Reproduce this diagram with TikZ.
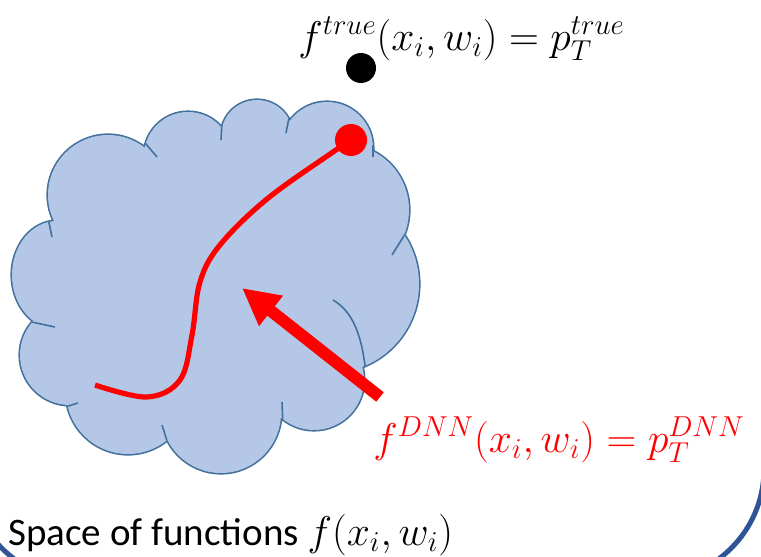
\documentclass[tikz,border=0pt]{standalone}
\usepackage{fontspec}
\setmainfont{Carlito}
\usepackage{xcolor}
\definecolor{puff}{HTML}{B4C7E7}
\definecolor{puffline}{HTML}{41719C}
\definecolor{frame}{HTML}{2F5597}
\definecolor{hot}{HTML}{FF0000}
\usetikzlibrary{arrows.meta}
% cloud puffs: x/y/rx/ry in pixels
\newcommand{\puffs}{57/275/45/54, 108/195/60/60, 188/156/44/44, 257/136/36/36,
  327/148/46/46, 343/210/66/66, 330/284/89/89, 314/380/50/50, 221/413/60/60,
  128/392/62/62, 70/355/50/50, 210/290/120/120, 255/205/65/65}
\tikzset{
  mathlbl/.style={font=\fontsize{20}{24}\selectfont,inner sep=0pt,anchor=base west},
  txtlbl/.style={font=\fontsize{19.5}{23}\selectfont,inner sep=0pt,anchor=base west},
  dot/.style={circle,inner sep=0pt,minimum size=#1},
  notch/.style={draw=puffline,line width=0.8pt},
}
\begin{document}
\begin{tikzpicture}[x=0.5pt,y=-0.5pt]
  \path[use as bounding box,clip] (0,0) rectangle (761,557);
  % frame of the slide box
  \draw[frame,line width=2.5pt,rounded corners=56pt] (-31,-300) rectangle (764,581);
  % cloud
  \draw[puffline,line width=1.6pt] \foreach \x/\y/\a/\b in \puffs {(\x,\y) ellipse ({\a} and {\b})};
  \fill[puff] \foreach \x/\y/\a/\b in \puffs {(\x,\y) ellipse ({\a} and {\b})};
  \begin{scope}
    \clip \foreach \x/\y/\a/\b in \puffs {(\x,\y) ellipse ({\a} and {\b})};
    \foreach \p/\q in {{48,218}/{52,237}, {140,137}/{157,157}, {222,122}/{221,140},
      {289,118}/{286,133}, {373,145}/{373,157}, {407,231}/{392,255}, {283,428}/{282,402},
      {169,447}/{162,425}, {62,408}/{78,403}, {27,321}/{55,327}}
      \draw[notch] (\p) -- (\q);
    \draw[notch] (366,375) .. controls (362,330) and (350,310) .. (333,300);
  \end{scope}
  % points
  \node[dot=15pt,fill=black] (truth) at (361,68) {};
  \node[dot=16pt,fill=hot] (fit) at (351,140) {};
  \draw[hot,line width=2.6pt] plot[smooth,tension=0.6] coordinates {(95,385) (147,397) (180,380)
    (192,335) (200,282) (220,245) (267,199) (333,152) (fit.center)};
  \coordinate (tail) at (380,397);
  \coordinate (tip) at (242,288);
  \draw[hot,line width=6pt,-{Triangle[length=18.5pt,width=18pt]}] (tail) -- (tip);
  % labels
  \node[mathlbl] (ltrue) at (298,50) {$f^{true}(x_i,w_i)=p_T^{true}$};
  \node[mathlbl,text=hot] (ldnn) at (373,452) {$f^{DNN}(x_i,w_i)=p_T^{DNN}$};
  \node[txtlbl] (lspace) at (8,545) {Space of functions $f(x_i,w_i)$};
\end{tikzpicture}
\end{document}
